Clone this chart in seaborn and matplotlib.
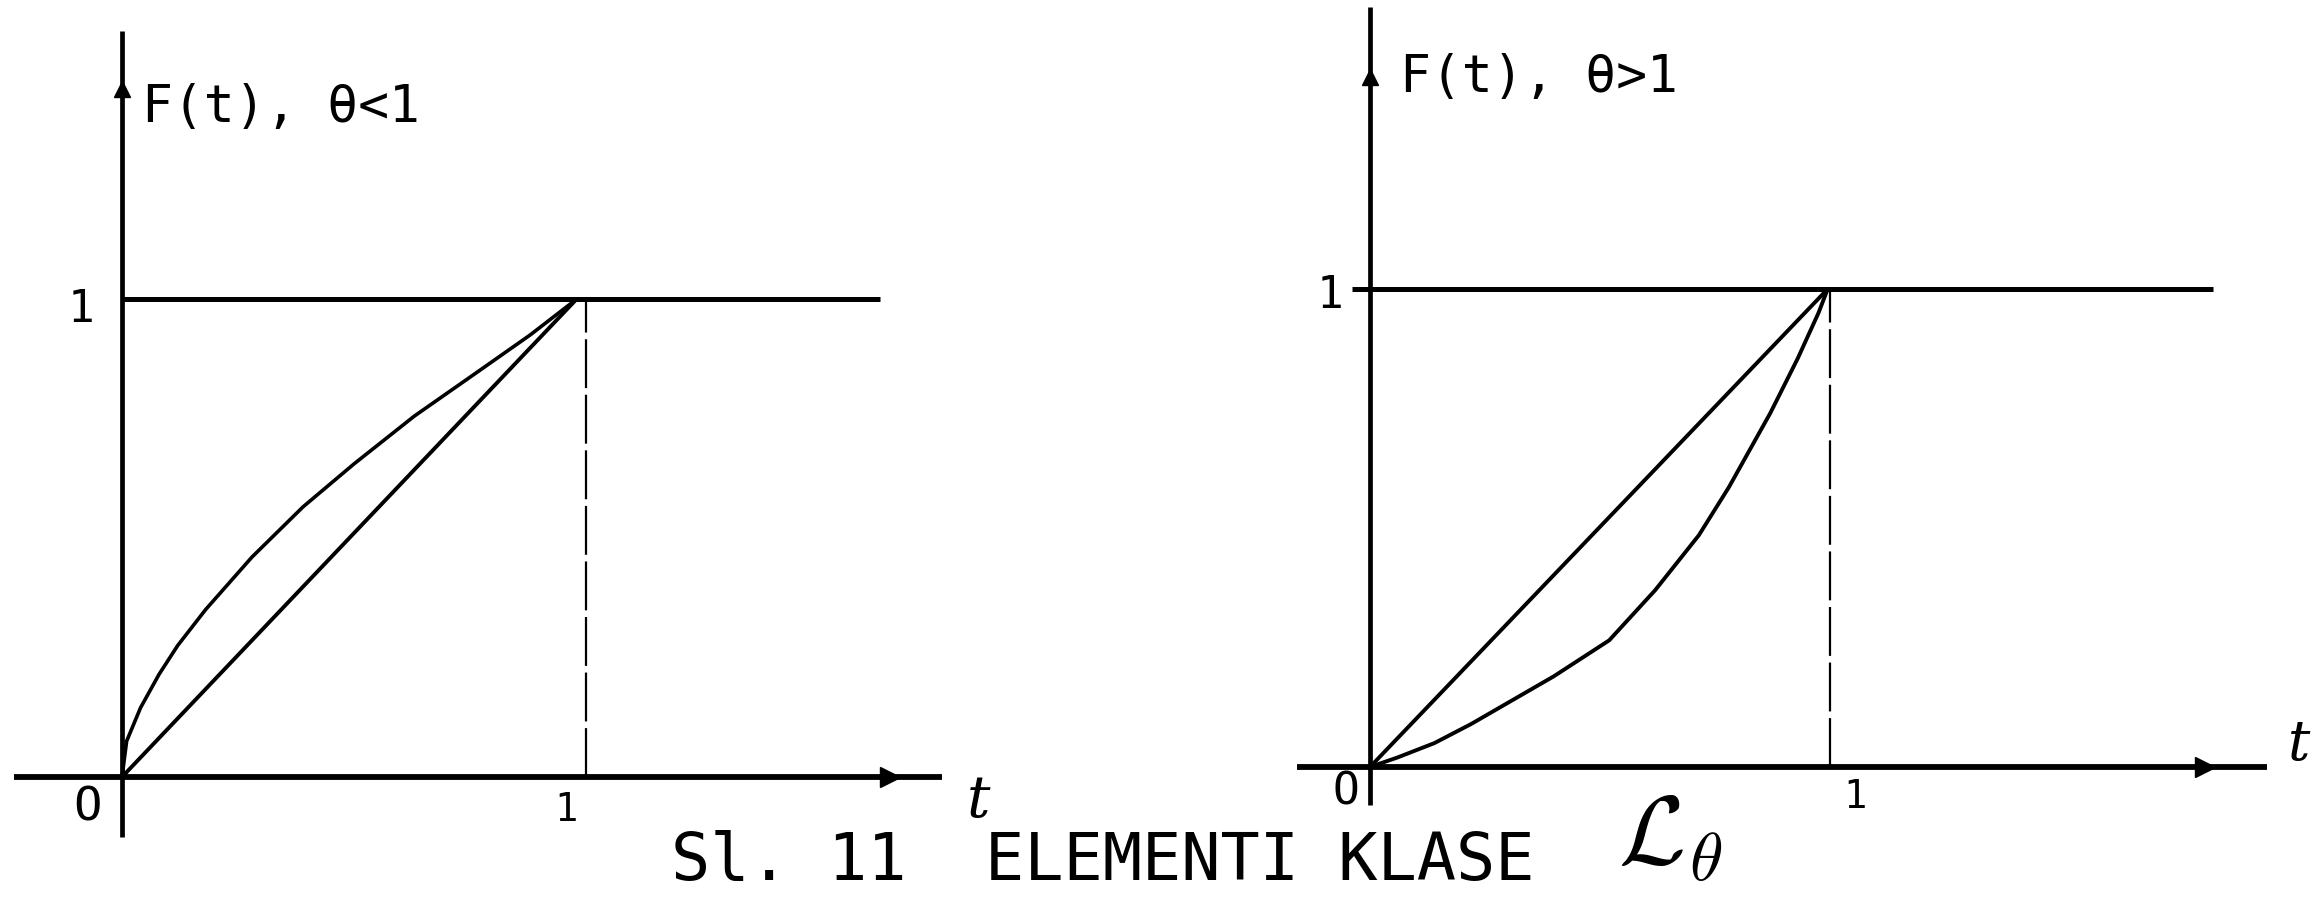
import matplotlib
matplotlib.use("Agg")
import matplotlib.pyplot as plt
import seaborn as sns

sns.set_theme(style="white")
plt.rcParams["font.family"] = ["DejaVu Sans Mono", "DejaVu Sans"]
plt.rcParams["mathtext.fontset"] = "cm"

# ---- data -----------------------------------------------------------------
# Left panel, theta < 1: concave distribution function and the diagonal F(t) = t
t_left_curve = [0.0, 0.01, 0.04, 0.08, 0.12, 0.18, 0.28, 0.39, 0.50,
                0.63, 0.77, 0.88, 0.94, 0.98]
F_left_curve = [0.0, 0.075, 0.145, 0.215, 0.275, 0.35, 0.46, 0.565, 0.655,
                0.755, 0.85, 0.925, 0.97, 1.0]
t_left_line = [0.0, 0.98]
F_left_line = [0.0, 1.0]

# Right panel, theta > 1: convex distribution function and the diagonal
t_right_curve = [0.0, 0.06, 0.14, 0.22, 0.31, 0.40, 0.52, 0.62, 0.715,
                 0.78, 0.87, 0.93, 0.975, 0.995]
F_right_curve = [0.0, 0.02, 0.05, 0.09, 0.14, 0.19, 0.265, 0.37, 0.485,
                 0.585, 0.74, 0.855, 0.95, 1.0]
t_right_line = [0.0, 0.995]
F_right_line = [0.0, 1.0]

label_left = "F(t), θ<1"
label_right = "F(t), θ>1"
tick_one = "1"
tick_zero = "O"
axis_name = "t"
caption = "Sl. 11  ELEMENTI KLASE"
caption_symbol = r"$\mathcal{L}_{\theta}$"

# ---- figure ---------------------------------------------------------------
W, H = 2321, 902
fig = plt.figure(figsize=(W / 100, H / 100), dpi=100)
fig.patch.set_facecolor("white")


def make_axes(origin_px, unit_px, xlim, ylim):
    ox, oy = origin_px
    ux, uy = unit_px
    left = (ox + ux * xlim[0]) / W
    width = ux * (xlim[1] - xlim[0]) / W
    bottom = (H - (oy - uy * ylim[0])) / H
    height = uy * (ylim[1] - ylim[0]) / H
    ax = fig.add_axes([left, bottom, width, height])
    ax.set_xlim(*xlim)
    ax.set_ylim(*ylim)
    ax.set_axis_off()
    return ax


def draw_panel(ax, x_span, y_span, level_span, x_head, y_head,
               t_curve, F_curve, t_line, F_line, curve_lw):
    k = "black"
    # coordinate axes with hand-drawn style arrowheads part way along
    ax.plot(x_span, [0, 0], color=k, lw=4.2, solid_capstyle="butt")
    ax.plot([0, 0], y_span, color=k, lw=3.4, solid_capstyle="butt")
    ax.plot([x_head], [0], marker=">", ms=15, color=k)
    ax.plot([0], [y_head], marker="^", ms=11, color=k)
    # level F = 1 and the broken guide at t = 1
    ax.plot(level_span, [1, 1], color=k, lw=3.6, solid_capstyle="butt")
    ax.plot([1, 1], [0, 1], color=k, lw=1.6, dashes=(22, 3))
    # distribution function and the uniform diagonal
    sns.lineplot(x=t_curve, y=F_curve, ax=ax, color=k, lw=curve_lw,
                 sort=False, estimator=None, solid_joinstyle="round",
                 solid_capstyle="round")
    sns.lineplot(x=t_line, y=F_line, ax=ax, color=k, lw=2.8,
                 sort=False, estimator=None, solid_capstyle="round")


ax_l = make_axes((122, 777), (464, 478), (-0.28, 1.95), (-0.27, 1.62))
draw_panel(ax_l, [-0.233, 1.767], [-0.126, 1.56], [0, 1.634], 1.655, 1.44,
           t_left_curve, F_left_curve, t_left_line, F_left_line, 2.6)

ax_r = make_axes((1370, 767), (460, 478), (-0.25, 2.1), (-0.29, 1.60))
draw_panel(ax_r, [-0.159, 1.95], [-0.08, 1.59], [-0.04, 1.833], 1.815, 1.443,
           t_right_curve, F_right_curve, t_right_line, F_right_line, 2.8)

txt = dict(color="black", clip_on=False)
# left panel annotations
ax_l.text(0.043, 1.40, label_left, fontsize=37, ha="left", va="center", **txt)
ax_l.text(-0.088, 0.977, tick_one, fontsize=32, ha="center", va="center", **txt)
ax_l.text(0.957, -0.069, tick_one, fontsize=28, ha="center", va="center", **txt)
ax_l.text(-0.075, -0.065, tick_zero, fontsize=34, ha="center", va="center", **txt)
ax_l.text(1.845, -0.05, axis_name, fontsize=42, ha="center", va="center",
          family="DejaVu Serif", style="italic", **txt)

# right panel annotations
ax_r.text(0.065, 1.441, label_right, fontsize=37, ha="left", va="center", **txt)
ax_r.text(-0.087, 0.987, tick_one, fontsize=32, ha="center", va="center", **txt)
ax_r.text(1.054, -0.063, tick_one, fontsize=28, ha="center", va="center", **txt)
ax_r.text(-0.052, -0.052, tick_zero, fontsize=32, ha="center", va="center", **txt)
ax_r.text(2.02, 0.046, axis_name, fontsize=40, ha="center", va="center",
          family="DejaVu Serif", style="italic", **txt)

# figure caption
fig.text(671 / W, (H - 880) / H, caption, fontsize=47, ha="left",
         va="baseline", color="black")
fig.text(1618 / W, (H - 790) / H, caption_symbol, fontsize=70, ha="left",
         va="top", color="black")

fig.savefig("out.png", dpi=100, facecolor="white")
